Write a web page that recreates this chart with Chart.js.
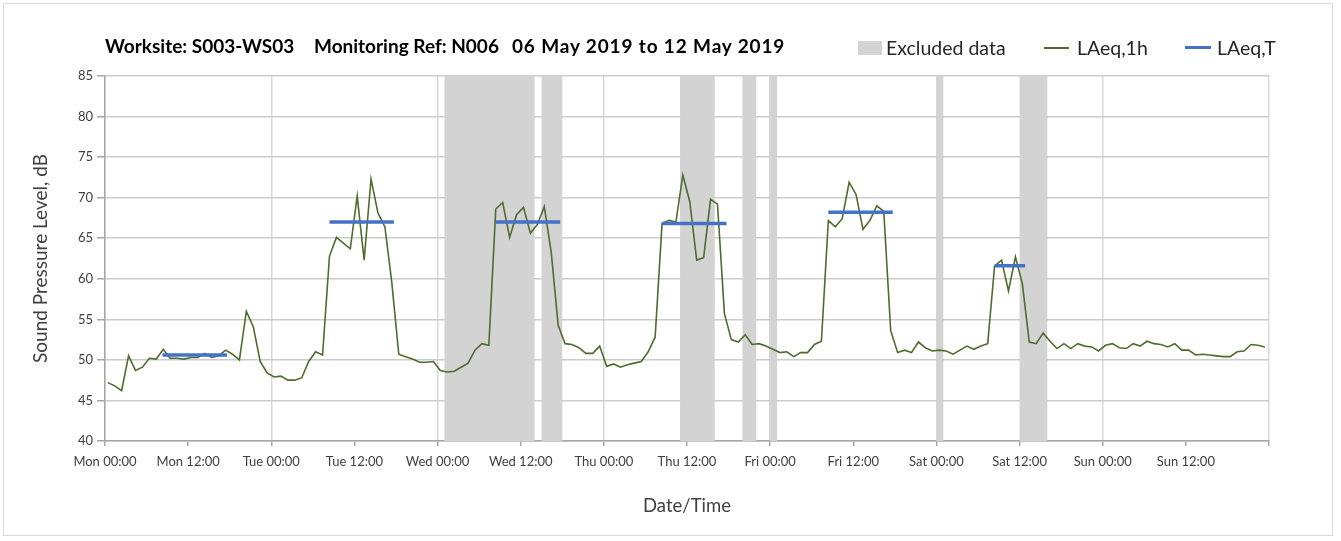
<!DOCTYPE html>
<html>
<head>
<meta charset="utf-8">
<script src="https://cdn.jsdelivr.net/npm/chart.js@4.4.1/dist/chart.umd.min.js"></script>
<style>
  html, body { margin: 0; padding: 0; background: #ffffff; }
  #wrap { position: relative; width: 1341px; height: 541px; overflow: hidden; font-family: Lato, "Open Sans", sans-serif; }
  #frame { position: absolute; left: 3px; top: 3px; width: 1330px; height: 533px; border: 1px solid #d9d9d9; box-sizing: border-box; pointer-events: none; }
  canvas { position: absolute; left: 0; top: 0; }
  .title { position: absolute; top: 34px; font-weight: bold; font-size: 19px; line-height: 24px; color: #000; white-space: nowrap; }
  .leg { position: absolute; top: 36px; font-size: 19.5px; line-height: 24px; color: #262626; white-space: nowrap; }
  .sw { position: absolute; }
</style>
</head>
<body>
<div id="wrap">
  <canvas id="c" width="1341" height="541"></canvas>
  <div class="title" style="left:105px">Worksite: S003-WS03</div>
  <div class="title" style="left:314px">Monitoring Ref: N006</div>
  <div class="title" style="left:512px;letter-spacing:0.85px">06 May 2019 to 12 May 2019</div>
  <div class="sw" style="left:858px;top:41px;width:24px;height:14px;background:#d3d3d3"></div>
  <div class="leg" style="left:886px">Excluded data</div>
  <div class="sw" style="left:1044px;top:47px;width:25px;height:2px;background:#4f6b2f"></div>
  <div class="leg" style="left:1077px">LAeq,1h</div>
  <div class="sw" style="left:1185px;top:46px;width:26px;height:3px;background:#4472c4"></div>
  <div class="leg" style="left:1217px">LAeq,T</div>
  <div id="frame"></div>
</div>
<script>
// ---- data ----
const tickLabels = ['Mon 00:00','Mon 12:00','Tue 00:00','Tue 12:00','Wed 00:00','Wed 12:00',
  'Thu 00:00','Thu 12:00','Fri 00:00','Fri 12:00','Sat 00:00','Sat 12:00','Sun 00:00','Sun 12:00'];

// hourly LAeq,1h values (dB), Mon 00:00 onwards
const laeq1h = [
  47.2,46.8,46.2,50.5,48.7,49.1,50.2,50.1,51.3,50.2,50.2,50.1,50.3,50.3,50.8,50.3,50.5,51.2,50.7,50.0,56.0,54.1,49.8,48.4,
  47.9,48.0,47.5,47.5,47.8,49.8,51.0,50.6,62.8,65.1,64.4,63.7,70.2,62.3,72.3,68.1,66.4,59.5,50.7,50.4,50.1,49.7,49.7,49.8,
  48.7,48.5,48.6,49.1,49.6,51.2,52.0,51.8,68.6,69.4,65.1,67.9,68.8,65.6,66.7,68.9,63.3,54.3,52.0,51.9,51.5,50.8,50.8,51.7,
  49.2,49.5,49.1,49.4,49.6,49.8,51.0,52.8,66.8,67.2,67.0,72.8,69.5,62.3,62.6,69.8,69.2,55.7,52.5,52.2,53.1,51.9,52.0,51.7,
  51.3,50.9,51.0,50.4,50.9,50.9,51.9,52.3,67.2,66.4,67.4,71.9,70.4,66.1,67.2,69.0,68.3,53.6,50.9,51.2,50.9,52.2,51.5,51.1,
  51.2,51.1,50.7,51.2,51.7,51.3,51.7,52.0,61.6,62.3,58.5,62.7,59.4,52.2,52.0,53.3,52.3,51.4,52.0,51.4,52.0,51.7,51.6,51.1,
  51.8,52.0,51.5,51.4,52.0,51.7,52.3,52.0,51.9,51.6,52.0,51.2,51.2,50.6,50.7,50.6,50.5,50.4,50.4,51.0,51.1,51.9,51.8,51.6
];
const sampleOffset = 0.4; // hours after the hour at which each hourly value is plotted

// LAeq,T periods (hours from Mon 00:00) and levels (dB)
const periodStart = [8.3, 32.4, 56.4, 80.4, 104.4, 128.4];
const periodEnd   = [17.6, 41.7, 65.7, 89.7, 113.7, 132.8];
const periodLevel = [50.6, 67.0, 67.0, 66.8, 68.2, 61.6];

// excluded data intervals (hours from Mon 00:00)
const excludedStart = [49, 63, 83, 92, 96, 120, 132];
const excludedEnd   = [62, 66, 88, 94, 97, 121, 136];

// ---- build ----
const lineData = laeq1h.map((v, i) => ({ x: i + sampleOffset, y: v }));
const periodData = [];
periodStart.forEach((s, k) => {
  periodData.push({ x: s, y: periodLevel[k] });
  periodData.push({ x: periodEnd[k], y: periodLevel[k] });
  periodData.push({ x: periodEnd[k], y: null });
});

const excludedPlugin = {
  id: 'excluded',
  beforeDatasetsDraw(chart) {
    const { ctx, chartArea, scales: { x } } = chart;
    ctx.save();
    ctx.fillStyle = '#d3d3d3';
    excludedStart.forEach((s, k) => {
      const x0 = x.getPixelForValue(s);
      const x1 = x.getPixelForValue(excludedEnd[k]);
      ctx.fillRect(x0, chartArea.top, x1 - x0, chartArea.bottom - chartArea.top);
    });
    ctx.restore();
  }
};

const FONT = 'Lato, "Open Sans", sans-serif';

new Chart(document.getElementById('c'), {
  type: 'line',
  data: {
    datasets: [
      { label: 'LAeq,T', data: periodData, borderColor: '#4472c4', borderWidth: 3.5,
        pointRadius: 0, spanGaps: false, borderCapStyle: 'butt', tension: 0, order: 0 },
      { label: 'LAeq,1h', data: lineData, borderColor: '#4f6b2f', borderWidth: 1.6,
        pointRadius: 0, tension: 0, order: 1 }
    ]
  },
  options: {
    responsive: false,
    devicePixelRatio: 1,
    animation: false,
    layout: { padding: { left: 0, right: 72, top: 76, bottom: 0 } },
    plugins: { legend: { display: false }, title: { display: false }, tooltip: { enabled: false } },
    scales: {
      x: {
        type: 'linear', min: 0, max: 168,
        afterFit(scale) { scale.height = 100; },
        border: { display: true, color: '#a6a6a6', width: 1.5 },
        grid: {
          color: (c) => (c.tick && c.tick.value % 24 === 0) ? '#d9d9d9' : 'rgba(0,0,0,0)',
          lineWidth: 1.5,
          tickColor: '#a6a6a6',
          tickLength: 5,
          drawTicks: true
        },
        ticks: {
          stepSize: 12, autoSkip: false, maxRotation: 0, padding: 8,
          color: '#404040', font: { family: FONT, size: 13 },
          callback: (v) => tickLabels[Math.round(v / 12)] || ''
        },
        title: { display: true, text: 'Date/Time', color: '#404040',
          font: { family: FONT, size: 18.5 }, padding: { top: 0, bottom: 24 } }
      },
      y: {
        min: 40, max: 85,
        afterFit(scale) { scale.width = 105; },
        border: { display: true, color: '#a6a6a6', width: 1.5 },
        grid: { color: '#cccccc', lineWidth: 1.5, tickColor: '#a6a6a6', tickLength: 8 },
        ticks: { stepSize: 5, padding: 4, color: '#404040', font: { family: FONT, size: 13 } },
        title: { display: true, text: 'Sound Pressure Level, dB', color: '#404040',
          font: { family: FONT, size: 19 }, padding: { top: 29, bottom: 0 } }
      }
    }
  },
  plugins: [excludedPlugin]
});
</script>
</body>
</html>
